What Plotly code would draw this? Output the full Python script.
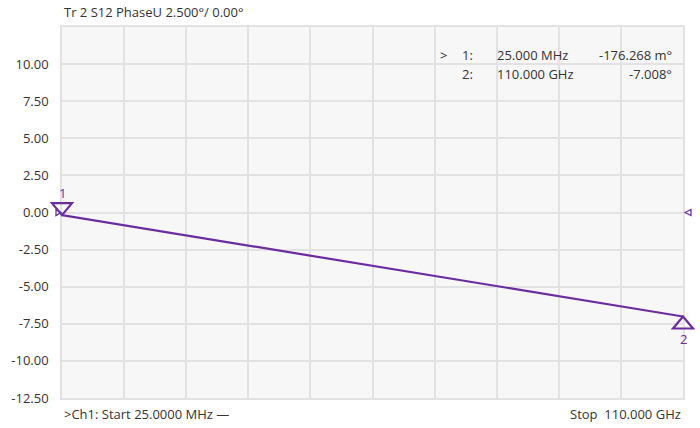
import plotly.graph_objects as go

# Data
freq_ghz = [0.025, 110.0]          # 25 MHz start, 110 GHz stop
phase_deg = [-0.176268, -7.008]    # S12 unwrapped phase (deg)
y_ticks = [10.0, 7.5, 5.0, 2.5, 0.0, -2.5, -5.0, -7.5, -10.0, -12.5]
marker_ids = ["1", "2"]
readout_freq = ["25.000 MHz", "110.000 GHz"]
readout_val = ["-176.268 m°", "-7.008°"]

PURPLE = "#6b2c9f"
TEXT = "#333333"
GRID = "#e2e2e2"
FONT = "Open Sans"
FS = 13

x_start, x_stop = 0.025, 110.0
x_step = (x_stop - x_start) / 10


def xfrac(v):
    return (v - x_start) / (x_stop - x_start)


fig = go.Figure()
fig.add_trace(go.Scatter(x=freq_ghz, y=phase_deg, mode="lines",
                         line=dict(color=PURPLE, width=2.2), hoverinfo="skip"))

shapes = []
# marker 1: downward open triangle, apex at point
shapes.append(dict(type="path", xref="paper", yref="y", xsizemode="pixel", ysizemode="pixel",
                   xanchor=xfrac(freq_ghz[0]), yanchor=phase_deg[0],
                   path="M -10,12 L 10,12 L 0,0 Z",
                   line=dict(color=PURPLE, width=2.2)))
# marker 2: upward open triangle, apex at point
shapes.append(dict(type="path", xref="paper", yref="y", xsizemode="pixel", ysizemode="pixel",
                   xanchor=xfrac(freq_ghz[1]), yanchor=phase_deg[1],
                   path="M -10,-12 L 10,-12 L 0,0 Z",
                   line=dict(color=PURPLE, width=2.2)))
# reference level indicators
shapes.append(dict(type="path", xref="paper", yref="y", xsizemode="pixel", ysizemode="pixel",
                   xanchor=1, yanchor=0,
                   path="M 2,0 L 8,3 L 8,-3 Z", line=dict(color=PURPLE, width=1.3)))
shapes.append(dict(type="path", xref="paper", yref="y", xsizemode="pixel", ysizemode="pixel",
                   xanchor=0, yanchor=0,
                   path="M -1,0 L -6,3 L -6,-3 Z", line=dict(color=PURPLE, width=1.3)))

annotations = [
    dict(x=freq_ghz[0], y=phase_deg[0], xref="x", yref="y", text=marker_ids[0],
         showarrow=False, yshift=22, font=dict(color=PURPLE, size=FS, family=FONT)),
    dict(x=freq_ghz[1], y=phase_deg[1], xref="x", yref="y", text=marker_ids[1],
         showarrow=False, yshift=-22, font=dict(color=PURPLE, size=FS, family=FONT)),
    dict(x=0, y=1, xref="paper", yref="paper", yshift=15, xanchor="left", yanchor="middle",
         text="Tr 2 S12 PhaseU 2.500°/ 0.00°", showarrow=False,
         font=dict(color=TEXT, size=FS, family=FONT)),
    dict(x=0, y=0, xref="paper", yref="paper", yshift=-16, xanchor="left", yanchor="middle",
         text=">Ch1: Start 25.0000 MHz —", showarrow=False,
         font=dict(color=TEXT, size=FS, family=FONT)),
    dict(x=1, y=0, xref="paper", yref="paper", yshift=-16, xanchor="right", yanchor="middle",
         text="Stop  110.000 GHz", showarrow=False,
         font=dict(color=TEXT, size=FS, family=FONT)),
]


# marker readout table (top right)
def px(xp):
    return (xp - 62) / 621.0


rows_y = [55, 74]
for i in range(2):
    ypaper = 1 - (rows_y[i] - 27) / 371.0
    if i == 0:
        annotations.append(dict(x=px(438), y=ypaper, xref="paper", yref="paper", xanchor="left",
                                yanchor="middle", text=">", showarrow=False,
                                font=dict(color=TEXT, size=FS, family=FONT)))
    annotations.append(dict(x=px(460), y=ypaper, xref="paper", yref="paper", xanchor="left",
                            yanchor="middle", text=marker_ids[i] + ":", showarrow=False,
                            font=dict(color=TEXT, size=FS, family=FONT)))
    annotations.append(dict(x=px(495), y=ypaper, xref="paper", yref="paper", xanchor="left",
                            yanchor="middle", text=readout_freq[i], showarrow=False,
                            font=dict(color=TEXT, size=FS, family=FONT)))
    annotations.append(dict(x=px(674), y=ypaper, xref="paper", yref="paper", xanchor="right",
                            yanchor="middle", text=readout_val[i], showarrow=False,
                            font=dict(color=TEXT, size=FS, family=FONT)))

fig.update_layout(
    width=700, height=428,
    margin=dict(l=62, r=17, t=27, b=30, autoexpand=False),
    paper_bgcolor="white", plot_bgcolor="#f7f7f7",
    showlegend=False,
    font=dict(family=FONT, color=TEXT, size=FS),
    shapes=shapes, annotations=annotations,
    xaxis=dict(range=[x_start, x_stop], tick0=x_start, dtick=x_step, showticklabels=False,
               showgrid=True, gridcolor=GRID, gridwidth=1.5, zeroline=False,
               showline=True, linecolor=GRID, linewidth=1.5, mirror=True, ticks=""),
    yaxis=dict(range=[-12.5, 12.5], tickvals=y_ticks,
               ticktext=[f"{v:.2f}" for v in y_ticks],
               showgrid=True, gridcolor=GRID, gridwidth=1.5, zeroline=False,
               showline=True, linecolor=GRID, linewidth=1.5, mirror=True, ticks="",
               ticklabelstandoff=9, tickfont=dict(size=FS, color=TEXT, family=FONT)),
)

fig.write_html("out.html", config={"displayModeBar": False},
               post_script="document.body.style.margin='0';")
